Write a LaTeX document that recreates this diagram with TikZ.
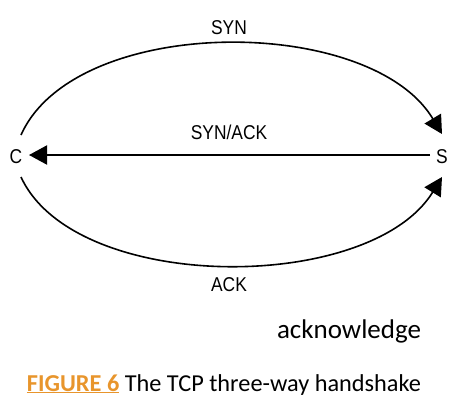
\documentclass[tikz,border=0pt]{standalone}
\usepackage{fontspec}
\setmainfont{Carlito}
\newfontfamily\lblfont{Liberation Sans}
\usetikzlibrary{arrows.meta}
\definecolor{figorange}{HTML}{E8952C}
\newcommand{\lbl}[1]{{\lblfont\fontsize{20}{20}\selectfont\scalebox{0.87}[1]{#1}}}
\tikzset{
  flow/.style={line width=1.6pt,-{Triangle[length=18pt,width=19pt]}},
  lab/.style={inner sep=0pt,font=\lblfont},
}
\begin{document}
\begin{tikzpicture}[x=1pt,y=-1pt]
\useasboundingbox (0,0) rectangle (462,408);
\node[lab] (C) at (16,157) {\lbl{C}};
\node[lab] (S) at (442,157) {\lbl{S}};
\coordinate (ctop) at (21,135);
\coordinate (cbot) at (21,177);
\coordinate (stop) at (442,134);
\coordinate (sbot) at (442,177);
\coordinate (sline) at (430,155);
\coordinate (cline) at (29,155);
\draw[flow] (ctop) .. controls (75,14) and (370,14) .. (stop);
\draw[flow] (cbot) .. controls (75,294) and (370,294) .. (sbot);
\draw[flow,line width=2pt] (sline) -- (cline);
\node[lab] (syn) at (229,28) {\lbl{SYN}};
\node[lab] (synack) at (229,132) {\lbl{SYN/ACK}};
\node[lab] (ack) at (229,285) {\lbl{ACK}};
\node[inner sep=0pt,anchor=base] (ackw) at (349,338) {\fontsize{27}{28}\selectfont acknowledge};
\node[inner sep=0pt,anchor=base] (cap) at (224,391) {\fontsize{24.3}{26}\selectfont\textcolor{figorange}{\underline{\textbf{FIGURE 6}}} The TCP three-way handshake};
\end{tikzpicture}
\end{document}
